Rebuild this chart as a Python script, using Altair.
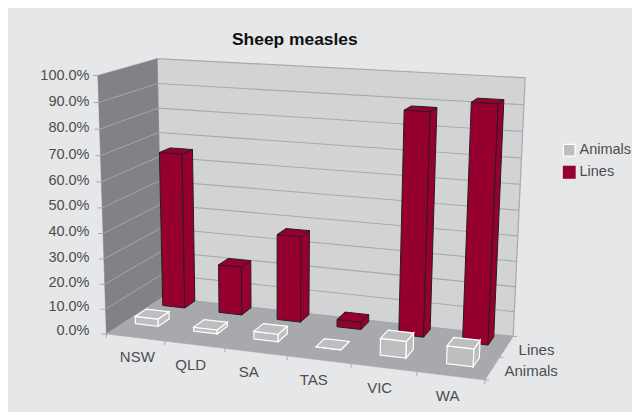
import altair as alt
import numpy as np
import pandas as pd

# ---- chart values ----
categories = ["NSW", "QLD", "SA", "TAS", "VIC", "WA"]
series_names = ["Animals", "Lines"]
animals = [0.03, 0.016, 0.03, 0.0, 0.065, 0.068]
lines = [0.64, 0.20, 0.35, 0.03, 0.875, 0.92]
percent_ticks = [i / 10 for i in range(11)]
label_nudge = [6, 0, -3, -1, 0, 1]

# ---- colours ----
PANEL = "#e6e7e8"
BACK_WALL = "#d1d3d4"
SIDE_WALL = "#808285"
FLOOR = "#a7a9ac"
GRID = "#a7a9ac"
RED = "#96002f"
RED_EDGE = "#2b1a21"
PALE = "#bcbec0"
TEXT = "#4d4d4f"
FONT = "Liberation Sans"

# ---- camera: maps (category, depth, share) in the box to the canvas ----
# each entry also carries how strongly the fit should hold on to it
box_points = [
    ((0, 0, 0), (107, 332), 3), ((0, 0, 1), (97, 76), 3),
    ((0, 2, 0), (162, 298), 5), ((0, 2, 1), (158, 58), 3),
    ((6, 2, 0), (513, 335), 3), ((6, 2, 1), (525, 78), 3),
    ((6, 0, 0), (485, 381), 3), ((1, 0, 0), (165, 342), 1),
    ((2, 0, 0), (225, 349), 1), ((3, 0, 0), (287, 357), 1),
    ((4, 0, 0), (350, 365), 1), ((5, 0, 0), (417, 374), 1),
    ((6, 1, 0), (503, 357), 1),
]
rows, rhs = [], []
for (a, b, c), (u, v), w in box_points:
    rows.append([w * q for q in (a, b, c, 1, 0, 0, 0, 0, -u * a, -u * b, -u * c)])
    rows.append([w * q for q in (0, 0, 0, 0, a, b, c, 1, -v * a, -v * b, -v * c)])
    rhs += [w * u, w * v]
camera = np.append(np.linalg.lstsq(np.array(rows, float), np.array(rhs, float), rcond=None)[0], 1).reshape(3, 4)


def project(cat, depth, share):
    p = camera @ np.array([cat, depth, share, 1.0])
    return float(p[0] / p[2]), float(p[1] / p[2])


polys_back, polys_bars, segs = [], [], []


def add_poly(store, pts, fill, stroke, width=1.0):
    pid = len(polys_back) + len(polys_bars)
    for k, (x, y) in enumerate(pts):
        store.append(dict(pid=pid, k=k, x=x, y=y, fill=fill, stroke=stroke, sw=width))


def add_seg(a, b, color, width=1.0):
    sid = len(segs)
    segs.append(dict(sid=sid, k=0, x=a[0], y=a[1], color=color, sw=width))
    segs.append(dict(sid=sid, k=1, x=b[0], y=b[1], color=color, sw=width))


# panel and white margin
add_poly(polys_back, [(8, 8), (632, 8), (632, 412), (8, 412)], PANEL, PANEL, 0)

# walls and floor
add_poly(polys_back, [project(0, 2, 0), project(6, 2, 0), project(6, 2, 1), project(0, 2, 1)], BACK_WALL, GRID, 1.2)
add_poly(polys_back, [project(0, 0, 0), project(0, 2, 0), project(0, 2, 1), project(0, 0, 1)], SIDE_WALL, SIDE_WALL, 0.5)
add_poly(polys_back, [project(0, 0, 0), project(6, 0, 0), project(6, 2, 0), project(0, 2, 0)], FLOOR, FLOOR, 0.5)

# gridlines on both walls
for t in percent_ticks[1:-1]:
    add_seg(project(0, 2, t), project(6, 2, t), GRID, 1.1)
    add_seg(project(0, 0, t), project(0, 2, t), GRID, 0.9)

# tick marks
for t in percent_ticks:
    x, y = project(0, 0, t)
    add_seg((x - 5, y), (x, y), GRID)
for c in range(7):
    x, y = project(c, 0, 0)
    add_seg((x, y), (x, y + 4), GRID)
for d in range(3):
    x, y = project(6, d, 0)
    add_seg((x, y), (x + 4, y), GRID)

# bars: back row first, each row from left to right; rows drift slightly with the category
GAP = 0.3


def add_bar(cat, row, share, fill, stroke, width):
    cat_shift = -0.1 + 0.024 * cat
    depth_shift = 0.3 - 0.025 * cat
    x0, x1 = cat + GAP + cat_shift, cat + 1 - GAP + cat_shift
    d0, d1 = row + GAP + depth_shift, row + 1 - GAP + depth_shift
    add_poly(polys_bars, [project(x0, d0, 0), project(x1, d0, 0), project(x1, d0, share), project(x0, d0, share)], fill, stroke, width)
    add_poly(polys_bars, [project(x1, d0, 0), project(x1, d1, 0), project(x1, d1, share), project(x1, d0, share)], fill, stroke, width)
    add_poly(polys_bars, [project(x0, d0, share), project(x1, d0, share), project(x1, d1, share), project(x0, d1, share)], fill, stroke, width)


for c, value in enumerate(lines):
    add_bar(c, 1, value, RED, RED_EDGE, 1.0)
for c, value in enumerate(animals):
    add_bar(c, 0, value, PALE, "#ffffff", 1.2)

# category and depth labels
label_rows = []
for c, name in enumerate(categories):
    x, y = project(c + 0.5, 0, 0)
    label_rows.append(dict(x=x - 4 + label_nudge[c], y=y + 20, text=name))
depth_rows = []
for r, name in enumerate(series_names):
    x, y = project(6, r + 0.5, 0)
    depth_rows.append(dict(x=x + 12, y=y + 3, text=name))

X = alt.X("x:Q", scale=alt.Scale(domain=[0, 632], range=[0, 632]), axis=None)
Y = alt.Y("y:Q", scale=alt.Scale(domain=[0, 412], range=[0, 412]), axis=None)


def polygon_layer(records):
    return alt.Chart(pd.DataFrame(records)).mark_line(interpolate="linear-closed").encode(
        x=X, y=Y,
        detail="pid:N",
        order="k:Q",
        fill=alt.Fill("fill:N", scale=None),
        stroke=alt.Stroke("stroke:N", scale=None),
        strokeWidth=alt.StrokeWidth("sw:Q", scale=None),
    )


back_layer = polygon_layer(polys_back)
bar_layer = polygon_layer(polys_bars)
seg_layer = alt.Chart(pd.DataFrame(segs)).mark_line().encode(
    x=X, y=Y, detail="sid:N", order="k:Q",
    stroke=alt.Stroke("color:N", scale=None),
    strokeWidth=alt.StrokeWidth("sw:Q", scale=None),
)

category_text = alt.Chart(pd.DataFrame(label_rows)).mark_text(
    font=FONT, fontSize=15, color=TEXT, align="center", baseline="middle"
).encode(x=X, y=Y, text="text:N")
depth_text = alt.Chart(pd.DataFrame(depth_rows)).mark_text(
    font=FONT, fontSize=15, color=TEXT, align="left", baseline="middle"
).encode(x=X, y=Y, text="text:N")

# percentage axis: the walls recede, so its spacing tightens slightly towards the floor
share_axis = alt.Chart(pd.DataFrame({"share": percent_ticks})).mark_point(opacity=0).encode(
    x=alt.value(0),
    y=alt.Y(
        "share:Q",
        scale=alt.Scale(type="pow", exponent=1.04, domain=[0, 1], range=[330, 75]),
        axis=alt.Axis(
            orient="left", values=percent_ticks, format=".1%", title=None, grid=False, ticks=False,
            domain=False, offset=-89, labelPadding=0, labelFont=FONT, labelFontSize=14.5,
            labelColor=TEXT, zindex=1,
        ),
    ),
)

swatch_legend = alt.Legend(
    title=None, orient="none", legendX=562, legendY=143, symbolType="square", symbolSize=135,
    symbolOpacity=1, labelFont=FONT, labelFontSize=14.5, labelColor=TEXT, rowPadding=5,
    labelOffset=3, symbolStrokeWidth=1.2,
)
legend_marks = alt.Chart(pd.DataFrame({"series": series_names})).mark_square(size=0).encode(
    x=alt.value(0), y=alt.value(0),
    fill=alt.Fill("series:N", scale=alt.Scale(domain=series_names, range=[PALE, RED]), legend=swatch_legend),
    stroke=alt.Stroke("series:N", scale=alt.Scale(domain=series_names, range=["#ffffff", RED]), legend=swatch_legend),
)

chart = (
    alt.layer(back_layer, seg_layer, bar_layer, category_text, depth_text, share_axis, legend_marks)
    .resolve_scale(y="independent", fill="independent", stroke="independent", x="shared")
    .properties(
        width=632, height=412, padding=0, background="#ffffff",
        autosize=alt.AutoSizeParams(type="none"),
        title=alt.TitleParams(
            "Sheep measles", anchor="start", dx=236, offset=-70, font=FONT, fontSize=17.4,
            fontWeight="bold", color="#111111", baseline="bottom",
        ),
    )
    .configure_view(stroke=None)
)

chart.save("out.html", embed_options={"renderer": "svg", "actions": False})
